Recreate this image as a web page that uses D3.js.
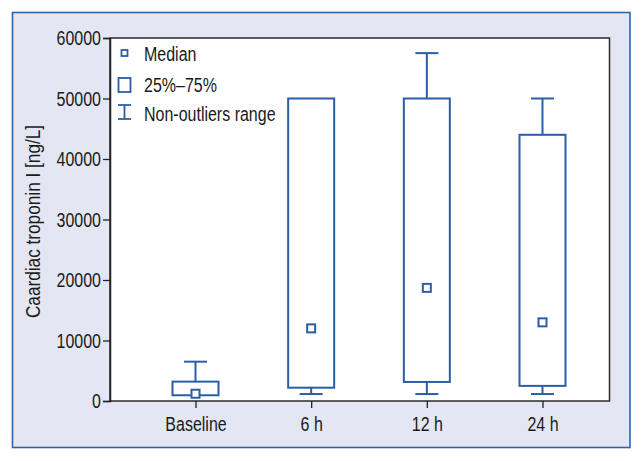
<!DOCTYPE html>
<html><head><meta charset="utf-8">
<script src="https://cdn.jsdelivr.net/npm/d3@7"></script>
<style>
html,body{margin:0;padding:0;background:#fff;}
svg text{font-family:"Liberation Sans Narrow","Arial Narrow","Liberation Sans",Arial,sans-serif;fill:#1a1a1a;}
</style></head>
<body>
<svg id="c" width="643" height="461"></svg>
<script>
const categories = ["Baseline", "6 h", "12 h", "24 h"];
const whiskerLow = [950, 1150, 1150, 1150];
const q1 = [950, 2200, 3150, 2500];
const medians = [1200, 12000, 18700, 13000];
const q3 = [3200, 50000, 50000, 44000];
const whiskerHigh = [6500, 50000, 57500, 50000];
const yTicks = [0, 10000, 20000, 30000, 40000, 50000, 60000];
const legendLabels = ["Median", "25%\u201375%", "Non-outliers range"];
const yTitle = "Caardiac troponin I [ng/L]";

const blue = "#2b5ea8";
const FS = 19.5, SX = 0.82;
const svg = d3.select("#c");
const L = 110, R = 609.5, T = 38, B = 401;

function ctext(sel, x, yy, t, anchor, rot, fs) {
  const r = rot ? ` rotate(${rot})` : "";
  return sel.append("text").attr("transform", `translate(${x},${yy})${r} scale(${SX},1)`)
    .attr("text-anchor", anchor || "start").attr("font-size", fs || FS).text(t);
}

svg.append("rect").attr("x", 12.5).attr("y", 12.5).attr("width", 617.5).attr("height", 435)
  .attr("fill", "#e4e7f3").attr("stroke", "#2f63ab").attr("stroke-width", 1.6);
svg.append("rect").attr("x", L).attr("y", T).attr("width", R - L).attr("height", B - T)
  .attr("fill", "#fff").attr("stroke", "#2a2a2a").attr("stroke-width", 1.5);

const y = d3.scaleLinear().domain([0, 60000]).range([B, T]);
const x = d3.scalePoint().domain(categories).range([195.5, 542.5]);

const yAxis = svg.append("g").attr("transform", `translate(${L},0)`)
  .call(d3.axisLeft(y).tickValues(yTicks).tickFormat(d3.format("d")).tickSize(7).tickPadding(2));
yAxis.attr("font-family", null).attr("font-size", null);
yAxis.select(".domain").attr("stroke", "#222").attr("stroke-width", 1.5);
yAxis.selectAll(".tick line").attr("stroke", "#222").attr("stroke-width", 1.3);
yAxis.selectAll(".tick text").attr("font-size", FS).attr("fill", "#1a1a1a")
  .attr("x", null).attr("dy", "0.34em").attr("transform", `translate(-9,0) scale(${SX},1)`);

const xAxis = svg.append("g").attr("transform", `translate(0,${B})`)
  .call(d3.axisBottom(x).tickSize(7).tickPadding(8));
xAxis.attr("font-family", null).attr("font-size", null);
xAxis.select(".domain").remove();
xAxis.selectAll(".tick line").attr("stroke", "#222").attr("stroke-width", 1.3);
xAxis.selectAll(".tick text").attr("font-size", FS).attr("fill", "#1a1a1a")
  .attr("y", null).attr("dy", null).attr("transform", `translate(0,30) scale(${SX},1)`);

ctext(svg, 40, 221.5, yTitle, "middle", -90, 21);

const bw = 46, cw = 23;
const g = svg.append("g").attr("stroke", blue).attr("stroke-width", 2).attr("fill", "none");
categories.forEach((c, i) => {
  const cx = x(c);
  if (whiskerHigh[i] > q3[i]) {
    g.append("line").attr("x1", cx).attr("x2", cx).attr("y1", y(q3[i])).attr("y2", y(whiskerHigh[i]));
    g.append("line").attr("x1", cx - cw / 2).attr("x2", cx + cw / 2).attr("y1", y(whiskerHigh[i])).attr("y2", y(whiskerHigh[i]));
  }
  if (whiskerLow[i] < q1[i]) {
    g.append("line").attr("x1", cx).attr("x2", cx).attr("y1", y(q1[i])).attr("y2", y(whiskerLow[i]));
    g.append("line").attr("x1", cx - cw / 2).attr("x2", cx + cw / 2).attr("y1", y(whiskerLow[i])).attr("y2", y(whiskerLow[i]));
  }
  g.append("rect").attr("x", cx - bw / 2).attr("y", y(q3[i])).attr("width", bw)
    .attr("height", y(q1[i]) - y(q3[i])).attr("fill", "#fff");
  g.append("rect").attr("x", cx - 4).attr("y", y(medians[i]) - 4).attr("width", 8).attr("height", 8).attr("fill", "#fff");
});

const lg = svg.append("g");
lg.append("rect").attr("x", 121.5).attr("y", 50).attr("width", 6).attr("height", 6)
  .attr("fill", "none").attr("stroke", blue).attr("stroke-width", 1.8);
lg.append("rect").attr("x", 118.5).attr("y", 78).attr("width", 12).attr("height", 14)
  .attr("fill", "none").attr("stroke", blue).attr("stroke-width", 1.8);
lg.append("line").attr("x1", 118).attr("x2", 131).attr("y1", 105).attr("y2", 105).attr("stroke", blue).attr("stroke-width", 1.8);
lg.append("line").attr("x1", 118).attr("x2", 131).attr("y1", 119).attr("y2", 119).attr("stroke", blue).attr("stroke-width", 1.8);
lg.append("line").attr("x1", 124.5).attr("x2", 124.5).attr("y1", 105).attr("y2", 119).attr("stroke", blue).attr("stroke-width", 1.8);
const ly = [61, 92, 121];
legendLabels.forEach((t, i) => ctext(lg, 144, ly[i], t, "start"));
</script>
</body></html>
